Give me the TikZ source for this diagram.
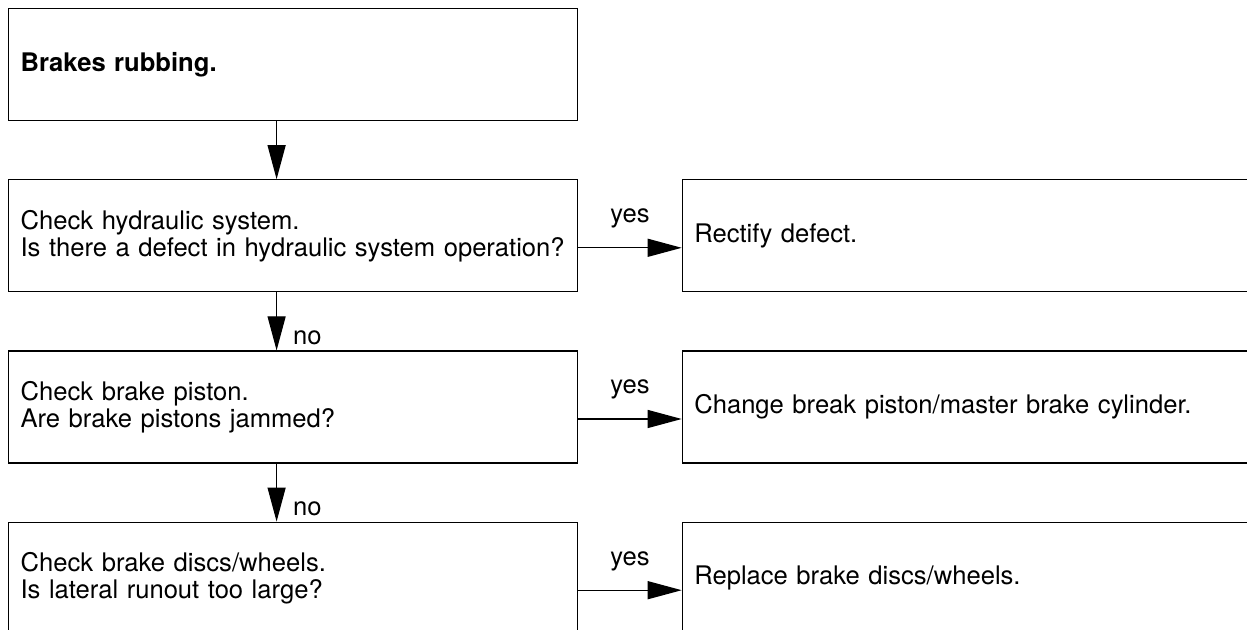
\documentclass[tikz,border=0pt]{standalone}
\usepackage{fontspec}
\setmainfont{TeX Gyre Heros}
\usetikzlibrary{arrows.meta, positioning}

\begin{document}
\begin{tikzpicture}[
  font=\fontsize{12.8}{13.5}\selectfont,
  box/.style={draw, line width=0.6pt, align=left, inner xsep=6pt, inner ysep=0pt,
              text width=272.5pt, minimum height=56pt},
  fix/.style={box, text width=290pt},
  arr/.style={-{Triangle[length=17pt, width=9pt]}, line width=0.6pt},
  lbl/.style={inner sep=0pt},
  node distance=29pt and 51.75pt]

  \clip (0,0) rectangle (623.5pt,-315pt);

  % question column
  \node[box, anchor=north west] at (4pt,-4pt) (rub) {\textbf{Brakes rubbing.}};
  \node[box, below=of rub] (hyd) {Check hydraulic system.\\ Is there a defect in hydraulic system operation?};
  \node[box, below=of hyd] (piston) {Check brake piston.\\ Are brake pistons jammed?};
  \node[box, below=of piston] (disc) {Check brake discs/wheels.\\ Is lateral runout too large?};

  % remedy column (runs off the right edge)
  \node[fix, right=of hyd] (fixhyd) {Rectify defect.};
  \node[fix, right=of piston] (fixpiston) {Change break piston/master brake cylinder.};
  \node[fix, right=of disc] (fixdisc) {Replace brake discs/wheels.};

  % flows
  \draw[arr] ([xshift=-8.25pt]rub.south) -- ([xshift=-8.25pt]hyd.north);
  \draw[arr] ([xshift=-8.25pt]hyd.south) --
    node[lbl, at end, anchor=base west, xshift=8pt, yshift=3pt]{no} ([xshift=-8.25pt]piston.north);
  \draw[arr] ([xshift=-8.25pt]piston.south) --
    node[lbl, at end, anchor=base west, xshift=8pt, yshift=3pt]{no} ([xshift=-8.25pt]disc.north);
  \draw[arr] ([yshift=-6pt]hyd.east) -- node[lbl, above=9.5pt]{yes} ([yshift=-6pt]fixhyd.west);
  \draw[arr] ([yshift=-6pt]piston.east) -- node[lbl, above=9.5pt]{yes} ([yshift=-6pt]fixpiston.west);
  \draw[arr] ([yshift=-6pt]disc.east) -- node[lbl, above=9.5pt]{yes} ([yshift=-6pt]fixdisc.west);
\end{tikzpicture}
\end{document}
